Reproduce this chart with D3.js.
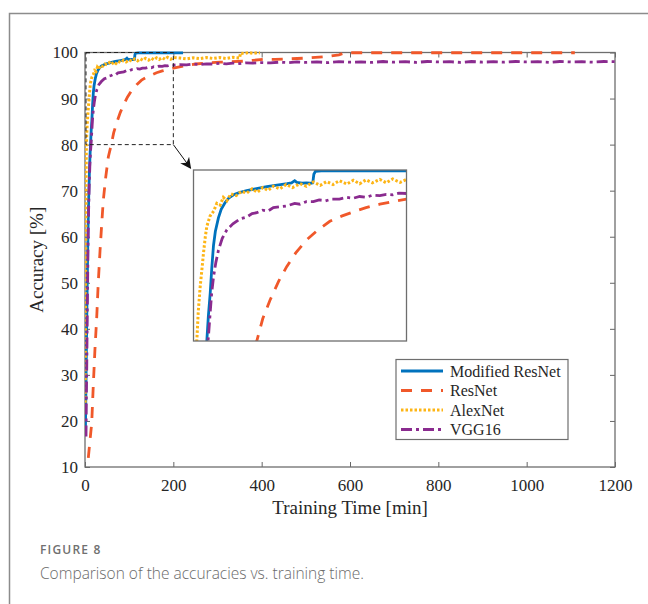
<!DOCTYPE html>
<html>
<head>
<meta charset="utf-8">
<script src="https://cdn.jsdelivr.net/npm/d3@7"></script>
<style>
  body { margin: 0; background: #fff; }
  svg { display: block; }
</style>
</head>
<body>
<div id="chart"></div>
<script>
// tick labels
const xTicks = [0, 200, 400, 600, 800, 1000, 1200];
const yTicks = [10, 20, 30, 40, 50, 60, 70, 80, 90, 100];

const seriesNames = ['Modified ResNet', 'ResNet', 'AlexNet', 'VGG16'];

// [training time (min), accuracy (%)]
const modResNet = [
  [1, 18], [2.5, 30], [4, 42], [5.5, 53], [7, 62], [8.5, 69], [10, 74], [11.3, 77.5], [12.5, 80],
  [14, 83], [15.7, 85.6], [17.2, 88.6], [18.8, 91.2], [20.5, 92.8], [23.4, 94.4], [26, 95.4],
  [29.7, 96.2], [33, 96.7], [37.5, 97.1], [43, 97.35], [50, 97.6], [58, 97.8], [68.8, 98.05],
  [80, 98.25], [88, 98.4], [92, 98.5], [95, 98.75], [97, 98.55], [102, 98.45], [106, 98.5],
  [110, 98.45], [112, 98.5], [113, 99.5], [114.5, 99.85], [120, 99.9], [222, 99.9]
];

const resNet = [
  [7.5, 12], [11, 15.5], [15.2, 19.5], [18.8, 27.8], [22.5, 35.5], [26.5, 42.4], [30, 50], [34, 56.9],
  [38, 63], [41.4, 67.9], [47, 73], [52.8, 77.3], [59.4, 80], [65, 82.6], [71.9, 84.8], [80, 87],
  [87.5, 88.7], [96, 90.3], [106, 91.8], [117, 93], [128, 94], [139, 94.6], [150, 95.1], [162, 95.6],
  [175, 96], [187, 96.3], [200, 96.6], [225, 97.1], [250, 97.5], [275, 97.7], [305, 97.9], [330, 98],
  [358, 98.1], [380, 98.3], [403, 98.5], [430, 98.5], [457, 98.6], [505, 98.8], [555, 99.2],
  [575, 99.5], [589, 99.95], [1109, 99.95]
];

const alexNet = [
  [0.5, 22], [1, 35], [1.5, 50], [2, 62], [2.5, 72], [3.1, 80], [4.5, 83.5], [6.3, 86.4], [8, 88.5],
  [9.4, 90.3], [11, 92.1], [12.5, 93.4], [14, 94.0], [15.5, 94.6], [17.2, 94.9], [19, 95.2],
  [21.9, 96.1], [25, 95.9], [28, 96.8], [31.3, 96.4], [35, 97.2], [40, 97.0], [45, 97.5], [50, 97.3],
  [55, 97.8], [60, 97.4], [65, 97.95], [70, 97.6], [75, 98.1], [81, 97.8], [87, 98.3], [93, 97.95],
  [100, 98.4], [106, 98.1], [112.5, 98.6], [119, 98.2], [125, 98.65], [131, 98.3], [137, 98.75],
  [144, 98.35], [150, 98.8], [156, 98.4], [162, 98.85], [168, 98.5], [175, 98.9], [181, 98.5],
  [187, 98.95], [194, 98.55], [200, 98.9], [215, 98.8], [230, 98.6], [245, 98.85], [260, 98.65],
  [275, 98.9], [290, 98.7], [305, 98.9], [320, 98.7], [335, 98.95], [350, 98.8], [352, 99.9],
  [360, 99.75], [370, 100], [380, 99.8], [390, 99.95], [396, 99.9]
];

const vgg16 = [
  [2.3, 16.6], [3, 24], [4, 32], [5, 42], [6, 51], [7, 59], [8, 65], [9.5, 71], [11, 75.5],
  [12.5, 78.5], [14, 80.5], [15.6, 83.2], [17, 85.5], [18.8, 87.5], [21, 89.2], [23.4, 90.6],
  [27, 92], [31.3, 93], [37, 93.7], [43.8, 94.3], [50, 94.5], [55, 94.9], [59.4, 95], [65, 95.3],
  [70, 95.2], [75, 95.6], [81.3, 95.7], [88, 95.8], [95, 96.1], [100, 96], [106, 96.3], [112.5, 96.3],
  [118, 96.5], [124, 96.4], [130, 96.6], [137, 96.6], [143.8, 96.8], [150, 96.7], [156, 96.9],
  [162, 96.8], [168, 97.05], [175, 97], [181, 97.15], [187, 97.1], [193, 97.3], [200, 97.25],
  [215, 97.35], [230, 97.3], [245, 97.5], [260, 97.4], [275, 97.55], [290, 97.5], [305, 97.65],
  [320, 97.55], [335, 97.7], [350, 97.6], [365, 97.75], [380, 97.7], [400, 97.8], [420, 97.75],
  [440, 97.9], [460, 97.8], [480, 97.95], [500, 97.85], [525, 97.95], [550, 97.8], [575, 98],
  [600, 97.9], [625, 97.95], [650, 97.85], [675, 98.05], [700, 97.9], [725, 98], [750, 97.85],
  [775, 98.05], [800, 97.95], [825, 98], [850, 97.85], [875, 98.05], [900, 97.9], [925, 98],
  [950, 97.9], [975, 98.05], [1000, 97.95], [1025, 98], [1050, 97.85], [1075, 98.05], [1100, 97.95],
  [1125, 98], [1150, 97.9], [1175, 98.05], [1200, 98]
];

// zoom window shown in the inset
const zoomX = [0, 200];
const zoomY = [80, 100];

const series = [
  { name: seriesNames[0], data: modResNet, color: '#0072BD', dash: null, width: 2.8 },
  { name: seriesNames[1], data: resNet, color: '#F0582A', dash: '11,9', width: 2.8 },
  { name: seriesNames[2], data: alexNet, color: '#FDB515', dash: '2.5,2', width: 3 },
  { name: seriesNames[3], data: vgg16, color: '#8A2B8F', dash: '11,4,3,4', width: 2.8 }
];

const width = 648;
const height = 604;
const plot = { left: 85, right: 615, top: 52.5, bottom: 467 };
const serif = '"Liberation Serif", "Times New Roman", serif';

const svg = d3.select('#chart')
  .append('svg')
  .attr('width', width)
  .attr('height', height);

// card border
svg.append('path')
  .attr('d', `M9.5,${height} V13.5 H${width}`)
  .attr('fill', 'none')
  .attr('stroke', '#8c8c8c')
  .attr('stroke-width', 1.5);

const x = d3.scaleLinear().domain([0, 1200]).range([plot.left, plot.right]);
const y = d3.scaleLinear().domain([10, 100]).range([plot.bottom, plot.top]);

const defs = svg.append('defs');
defs.append('clipPath').attr('id', 'clip-main')
  .append('rect')
  .attr('x', plot.left).attr('y', plot.top - 3)
  .attr('width', plot.right - plot.left).attr('height', plot.bottom - plot.top + 3);

defs.append('marker')
  .attr('id', 'arrow')
  .attr('viewBox', '0 0 10 10')
  .attr('refX', 9).attr('refY', 5)
  .attr('markerWidth', 11).attr('markerHeight', 11)
  .attr('markerUnits', 'userSpaceOnUse')
  .attr('orient', 'auto')
  .append('path')
  .attr('d', 'M0,0 L10,5 L0,10 L3,5 Z')
  .attr('fill', '#111');

// axes with inward ticks
function styleAxis(g) {
  g.select('.domain').remove();
  g.selectAll('line').attr('stroke', '#666').attr('stroke-width', 1);
  g.selectAll('text')
    .attr('font-family', serif)
    .attr('font-size', '17px')
    .attr('fill', '#262626');
}

svg.append('g')
  .attr('transform', `translate(0,${plot.bottom})`)
  .call(d3.axisBottom(x).tickValues(xTicks).tickSize(-5).tickPadding(12).tickFormat(d3.format('d')))
  .call(styleAxis);
svg.append('g')
  .attr('transform', `translate(0,${plot.top})`)
  .call(d3.axisTop(x).tickValues(xTicks).tickSize(-5).tickFormat(''))
  .call(styleAxis);
svg.append('g')
  .attr('transform', `translate(${plot.left},0)`)
  .call(d3.axisLeft(y).tickValues(yTicks).tickSize(-5).tickPadding(7))
  .call(styleAxis);
svg.append('g')
  .attr('transform', `translate(${plot.right},0)`)
  .call(d3.axisRight(y).tickValues(yTicks).tickSize(-5).tickFormat(''))
  .call(styleAxis);

svg.append('rect')
  .attr('x', plot.left).attr('y', plot.top)
  .attr('width', plot.right - plot.left).attr('height', plot.bottom - plot.top)
  .attr('fill', 'none')
  .attr('stroke', '#6e6e6e')
  .attr('stroke-width', 1.3);

// series lines
const line = d3.line().x(d => x(d[0])).y(d => y(d[1]));
const mainLines = svg.append('g').attr('clip-path', 'url(#clip-main)');
series.forEach(s => {
  mainLines.append('path')
    .datum(s.data)
    .attr('fill', 'none')
    .attr('stroke', s.color)
    .attr('stroke-width', s.width)
    .attr('stroke-dasharray', s.dash)
    .attr('d', line);
});

// zoom window
svg.append('rect')
  .attr('x', x(zoomX[0]) + 1).attr('y', y(zoomY[1]))
  .attr('width', x(zoomX[1]) - x(zoomX[0]) - 1).attr('height', y(zoomY[0]) - y(zoomY[1]))
  .attr('fill', 'none')
  .attr('stroke', '#222')
  .attr('stroke-width', 1)
  .attr('stroke-dasharray', '4,3');

// inset
const inset = { left: 193.5, top: 170, w: 213, h: 171 };
const xi = d3.scaleLinear().domain(zoomX).range([0, inset.w]);
const yi = d3.scaleLinear().domain(zoomY).range([inset.h, 0]);

svg.append('line')
  .attr('x1', x(zoomX[1])).attr('y1', y(zoomY[0]))
  .attr('x2', inset.left - 3).attr('y2', inset.top - 2)
  .attr('stroke', '#111')
  .attr('stroke-width', 1)
  .attr('marker-end', 'url(#arrow)');

defs.append('clipPath').attr('id', 'clip-inset')
  .append('rect').attr('width', inset.w).attr('height', inset.h);

const ig = svg.append('g').attr('transform', `translate(${inset.left},${inset.top})`);
ig.append('rect')
  .attr('width', inset.w).attr('height', inset.h)
  .attr('fill', '#fff');
const insetLine = d3.line().x(d => xi(d[0])).y(d => yi(d[1]));
const insetLines = ig.append('g').attr('clip-path', 'url(#clip-inset)');
series.forEach(s => {
  insetLines.append('path')
    .datum(s.data)
    .attr('fill', 'none')
    .attr('stroke', s.color)
    .attr('stroke-width', s.width)
    .attr('stroke-dasharray', s.dash)
    .attr('d', insetLine);
});
ig.append('rect')
  .attr('width', inset.w).attr('height', inset.h)
  .attr('fill', 'none')
  .attr('stroke', '#6e6e6e')
  .attr('stroke-width', 1.3);

// legend
const legend = svg.append('g').attr('transform', 'translate(396,359.5)');
legend.append('rect')
  .attr('width', 172).attr('height', 80)
  .attr('fill', '#fff')
  .attr('stroke', '#6e6e6e')
  .attr('stroke-width', 1.2);
series.forEach((s, i) => {
  const ly = 11.5 + i * 19.5;
  legend.append('line')
    .attr('x1', 5).attr('x2', 47)
    .attr('y1', ly).attr('y2', ly)
    .attr('stroke', s.color)
    .attr('stroke-width', s.width)
    .attr('stroke-dasharray', s.dash);
  legend.append('text')
    .attr('x', 54).attr('y', ly + 5.5)
    .attr('font-family', serif)
    .attr('font-size', '16px')
    .attr('fill', '#262626')
    .text(s.name);
});

// axis titles
svg.append('text')
  .attr('x', (plot.left + plot.right) / 2)
  .attr('y', 514)
  .attr('text-anchor', 'middle')
  .attr('font-family', serif)
  .attr('font-size', '19px')
  .attr('fill', '#262626')
  .text('Training Time [min]');

svg.append('text')
  .attr('transform', `translate(43,${(plot.top + plot.bottom) / 2}) rotate(-90)`)
  .attr('text-anchor', 'middle')
  .attr('font-family', serif)
  .attr('font-size', '19px')
  .attr('fill', '#262626')
  .text('Accuracy [%]');

// caption
svg.append('text')
  .attr('x', 40).attr('y', 553.5)
  .attr('font-family', '"Open Sans", sans-serif')
  .attr('font-size', '12px')
  .attr('font-weight', 600)
  .attr('letter-spacing', '1.2px')
  .attr('fill', '#707070')
  .text('FIGURE 8');

svg.append('text')
  .attr('x', 40).attr('y', 579)
  .attr('font-family', '"Open Sans", sans-serif')
  .attr('font-size', '15.5px')
  .attr('font-weight', 300)
  .attr('fill', '#6a6a6a')
  .text('Comparison of the accuracies vs. training time.');
</script>
</body>
</html>
